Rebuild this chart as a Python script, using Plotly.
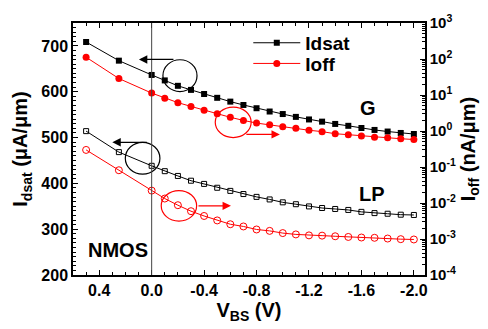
import plotly.graph_objects as go

# Body-bias sweep (V_BS, volts)
vbs = [0.5, 0.25, 0.0, -0.1, -0.2, -0.3, -0.4, -0.5, -0.6, -0.7, -0.8, -0.9,
       -1.0, -1.1, -1.2, -1.3, -1.4, -1.5, -1.6, -1.7, -1.8, -1.9, -2.0]

# Saturation drive current (uA/um)
idsat_g = [708.5, 667.8, 636.6, 624.7, 612.9, 604.0, 595.0, 586.7, 578.4, 571.1,
           564.0, 556.8, 551.3, 545.1, 539.5, 534.7, 529.7, 525.6, 520.8, 516.6,
           513.1, 510.0, 507.7]
idsat_lp = [514.0, 468.2, 438.3, 426.6, 416.2, 405.8, 398.8, 390.4, 383.6, 376.7,
            370.5, 364.9, 358.6, 354.5, 349.7, 346.2, 344.1, 342.0, 337.8, 335.1,
            333.7, 331.6, 331.0]

# Off-state leakage (nA/um)
ioff_g = [112.0, 28.7, 11.3, 8.13, 6.14, 4.82, 3.78, 3.01, 2.40, 1.97, 1.66, 1.48,
          1.31, 1.19, 1.05, 0.96, 0.84, 0.79, 0.73, 0.67, 0.65, 0.61, 0.58]
ioff_lp = [0.298, 0.0813, 0.0221, 0.0133, 0.00869, 0.00592, 0.00436, 0.00328,
           0.00257, 0.00223, 0.00184, 0.00168, 0.00146, 0.00134, 0.00126, 0.00124,
           0.00119, 0.00114, 0.00110, 0.00108, 0.00103, 0.00099, 0.00097]

x_tick_vals = [0.4, 0.0, -0.4, -0.8, -1.2, -1.6, -2.0]
x_tick_text = ["0.4", "0.0", "-0.4", "-0.8", "-1.2", "-1.6", "-2.0"]
y_tick_vals = [200, 300, 400, 500, 600, 700]
ioff_exponents = [-4, -3, -2, -1, 0, 1, 2, 3]

FONT = "Liberation Sans, Arial, sans-serif"
RED = "#ff0000"

fig = go.Figure()

fig.add_trace(go.Scatter(
    x=vbs, y=idsat_g, name="Idsat", mode="lines+markers",
    line=dict(color="black", width=1),
    marker=dict(symbol="square", size=6, color="black"),
    yaxis="y", showlegend=True, legend="legend"))
fig.add_trace(go.Scatter(
    x=vbs, y=ioff_g, name="Ioff", mode="lines+markers",
    line=dict(color=RED, width=1),
    marker=dict(symbol="circle", size=7, color=RED),
    yaxis="y2", showlegend=True, legend="legend2"))
fig.add_trace(go.Scatter(
    x=vbs, y=idsat_lp, name="Idsat LP", mode="lines+markers",
    line=dict(color="black", width=1),
    marker=dict(symbol="square-open", size=5, color="black", line=dict(width=1)),
    yaxis="y", showlegend=False))
fig.add_trace(go.Scatter(
    x=vbs, y=ioff_lp, name="Ioff LP", mode="lines+markers",
    line=dict(color=RED, width=1),
    marker=dict(symbol="circle-open", size=7, color=RED, line=dict(width=1)),
    yaxis="y2", showlegend=False))

# Grouping ellipses with direction arrows (left axis = Idsat, right axis = Ioff)
ellipses = [
    (-0.216, 635.1, 0.130, 34.7, "black"),
    (0.069, 454.9, 0.132, 34.7, "black"),
    (-0.622, 533.3, 0.137, 33.3, RED),
    (-0.208, 350.9, 0.135, 33.3, RED),
]
for cx, cy, rx, ry, col in ellipses:
    fig.add_shape(type="circle", xref="x", yref="y",
                  x0=cx - rx, x1=cx + rx, y0=cy - ry, y1=cy + ry,
                  line=dict(color=col, width=1.2))

arrows = [
    (0.097, 670.5, 36, "black"),
    (0.300, 489.6, 36, "black"),
    (-0.978, 506.9, -35, RED),
    (-0.605, 350.9, -34, RED),
]
for hx, hy, off, col in arrows:
    fig.add_annotation(x=hx, y=hy, xref="x", yref="y", ax=off, ay=0,
                       text="", showarrow=True, arrowhead=2, arrowsize=1.4,
                       arrowwidth=1.2, arrowcolor=col)

# x = 0 reference line
fig.add_shape(type="line", xref="x", yref="paper", x0=0, x1=0, y0=0, y1=1,
              line=dict(color="#444444", width=1))

labels = [(-1.647, 565.0, "G"), (-1.677, 376.0, "LP"), (0.255, 255.3, "NMOS")]
for lx, ly, txt in labels:
    fig.add_annotation(x=lx, y=ly, xref="x", yref="y", text=txt, showarrow=False,
                       font=dict(family=FONT, size=20, color="black", weight="bold"))

tick_font = dict(family=FONT, size=16, color="black", weight="bold")
title_font = dict(family=FONT, size=20, color="black", weight="bold")
legend_font = dict(family=FONT, size=19, color="black", weight="bold")

fig.update_layout(
    width=488, height=329,
    margin=dict(l=73, r=63, t=15, b=50),
    paper_bgcolor="white", plot_bgcolor="white",
    font=dict(family=FONT, color="black"),
    xaxis=dict(
        range=[0.6, -2.085], tickmode="array", tickvals=x_tick_vals, ticktext=x_tick_text,
        ticks="inside", ticklen=5, tickwidth=1.2, tickcolor="black",
        minor=dict(ticks="inside", ticklen=3, tickwidth=1, tickcolor="black", dtick=0.1,
                   tick0=0, showgrid=False),
        showline=True, linecolor="black", linewidth=1.5, mirror="ticks",
        showgrid=False, zeroline=False, tickfont=tick_font,
        title=dict(text="V<sub>BS</sub> (V)", font=title_font, standoff=4),
    ),
    yaxis=dict(
        range=[200, 750], tickmode="array", tickvals=y_tick_vals,
        ticks="inside", ticklen=5, tickwidth=1.2, tickcolor="black",
        minor=dict(ticks="inside", ticklen=3, tickwidth=1, tickcolor="black", dtick=10,
                   showgrid=False),
        showline=True, linecolor="black", linewidth=1.5,
        showgrid=False, zeroline=False, tickfont=tick_font,
        title=dict(text="I<sub>dsat</sub> (μA/μm)", font=title_font, standoff=8),
    ),
    yaxis2=dict(
        type="log", range=[-4, 3], overlaying="y", side="right",
        tickmode="array", tickvals=[10 ** e for e in ioff_exponents],
        ticktext=["10<sup>%d</sup>" % e for e in ioff_exponents],
        ticks="inside", ticklen=5, tickwidth=1.2, tickcolor="black",
        minor=dict(ticks="inside", ticklen=3, tickwidth=1, tickcolor="black", dtick="D1",
                   showgrid=False),
        showline=True, linecolor="black", linewidth=1.5,
        showgrid=False, zeroline=False,
        tickfont=dict(family=FONT, size=15, color="black", weight="bold"),
        title=dict(text="I<sub>off</sub> (nA/μm)", font=title_font, standoff=6),
    ),
    legend=dict(x=0.498, y=0.921, xanchor="left", yanchor="middle",
                bgcolor="rgba(0,0,0,0)", borderwidth=0, itemwidth=47,
                font=legend_font),
    legend2=dict(x=0.498, y=0.839, xanchor="left", yanchor="middle",
                 bgcolor="rgba(0,0,0,0)", borderwidth=0, itemwidth=47,
                 font=legend_font),
)

fig.write_html("out.html")
